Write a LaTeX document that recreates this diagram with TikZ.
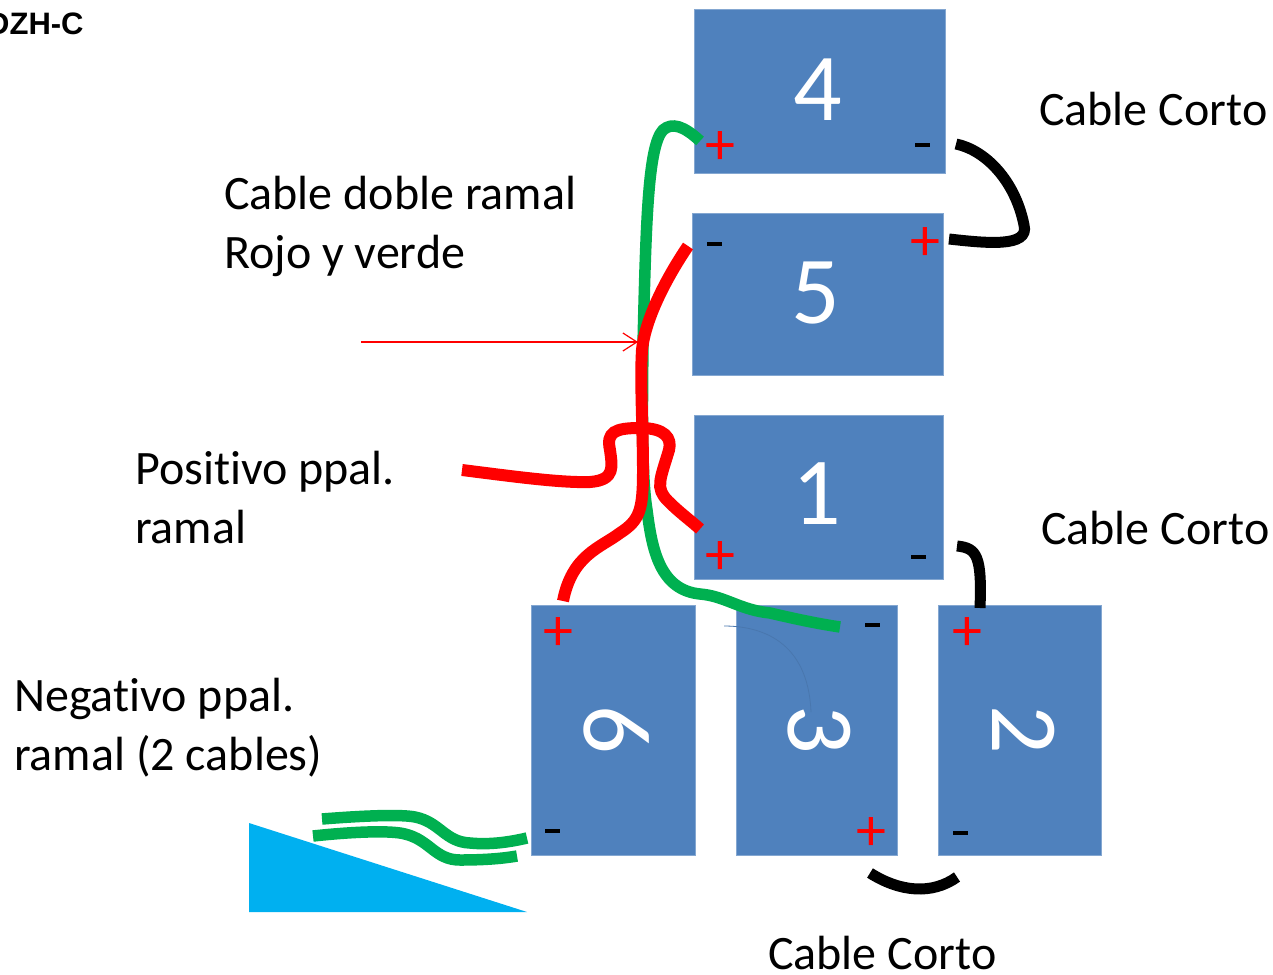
\documentclass[tikz,border=0pt]{standalone}
\usepackage{fontspec}
\setmainfont{Carlito}[Ligatures=CommonOff]
\newfontfamily\labelfont{Liberation Sans}
\usetikzlibrary{arrows.meta}
\definecolor{myBlue}{RGB}{79,129,189}
\definecolor{myCyan}{RGB}{0,176,240}
\definecolor{myGreen}{RGB}{0,176,80}
\definecolor{myRed}{RGB}{255,0,0}

\tikzset{
    battery/.style={fill=myBlue,draw=myBlue!70!white,line width=.6pt,inner sep=0pt,anchor=north west},
    number/.style={text=white,font=\fontsize{96}{96}\selectfont,inner sep=0pt},
    caption/.style={font=\fontsize{48}{59}\selectfont,anchor=west,align=left,inner sep=0pt},
    plus/.style={text=myRed,font=\fontsize{60}{60}\selectfont,inner sep=0pt,xshift=1pt,yshift=-3pt},
    minus/.style={fill=black,minimum width=15pt,minimum height=4.5pt,inner sep=0pt},
    redcable/.style={draw=myRed,line width=12pt},
    greencable/.style={draw=myGreen,line width=11.5pt},
    blackcable/.style={draw=black,line width=11pt},
}

\begin{document}
\begin{tikzpicture}[x=1pt,y=-1pt]
\useasboundingbox (0,0) rectangle (1273,974);

% draw batteries
\node[battery,minimum width=251pt,minimum height=163pt] (bat4) at (694,9.5) {};
\node[battery,minimum width=251pt,minimum height=162pt] (bat5) at (692,213) {};
\node[battery,minimum width=249pt,minimum height=164pt] (bat1) at (694,415) {};
\node[battery,minimum width=164pt,minimum height=250pt] (bat6) at (531,605) {};
\node[battery,minimum width=161pt,minimum height=250pt] (bat3) at (736,605) {};
\node[battery,minimum width=163pt,minimum height=250pt] (bat2) at (938,605) {};

% place numbers
\node[number] (num4) at (818,90) {4};
\node[number] (num5) at (816,293) {5};
\node[number] (num1) at (817,494) {1};
\node[number,rotate=-90] (num6) at (617,730) {6};
\node[number,rotate=-90] (num3) at (819,730) {3};
\node[number,rotate=-90] (num2) at (1024,730) {2};

% place polarity signs
\node[plus] (p4) at (719,145) {+};
\node[plus] (p5) at (924,241) {+};
\node[plus] (p1) at (719,555) {+};
\node[plus] (p6) at (557,631) {+};
\node[plus] (p3) at (870,831) {+};
\node[plus] (p2) at (966,631) {+};
\node[minus] (m4) at (922,145) {};
\node[minus] (m5) at (714,244) {};
\node[minus] (m1) at (918,557) {};
\node[minus] (m6) at (552,831) {};
\node[minus] (m3) at (872,625) {};
\node[minus] (m2) at (960,833) {};

% cable ends
\coordinate (g4) at (700,141);
\coordinate (r5) at (688,246);
\coordinate (rmid) at (642,350);
\coordinate (tip) at (638,342);
\coordinate (tail) at (361,342);
\coordinate (rpos) at (462,470);
\coordinate (r1) at (700,529);
\coordinate (r6) at (563,601);
\coordinate (g3) at (840,627);
\coordinate (gA) at (527,838);
\coordinate (gB) at (517,856);
\coordinate (gC) at (322,819);
\coordinate (gD) at (313,836);
\coordinate (k4) at (956,144);
\coordinate (k5) at (949,239);
\coordinate (k1) at (957,546);
\coordinate (k2) at (980,608);
\coordinate (k3a) at (870,873);
\coordinate (k3b) at (957,877);

% wedge
\fill[myCyan] (249,823) -- (527,912) -- (249,912) -- cycle;

% green cable
\draw[greencable] (g4) .. controls (684,126) and (672,122) .. (663,130)
    .. controls (648,146) and (646,220) .. (643,345)
    .. controls (642,420) and (642,480) .. (647,510)
    .. controls (652,550) and (660,590) .. (700,594)
    .. controls (725,596) and (740,610) .. (770,613)
    .. controls (800,620) and (820,624) .. (g3);

% thin line on battery 3
\draw[myBlue!92!black,line width=.8pt] (724,626) .. controls (760,626) and (808,640) .. (811,712);

% red cables
\draw[redcable] (r5) .. controls (665,280) and (645,320) .. (rmid)
    .. controls (640,380) and (643,430) .. (643,470)
    .. controls (643,510) and (640,520) .. (620,533)
    .. controls (600,548) and (572,555) .. (r6);
\draw[redcable] (rpos) .. controls (510,476) and (560,483) .. (590,482)
    .. controls (616,480) and (612,466) .. (610,450)
    .. controls (606,432) and (615,428) .. (640,428)
    .. controls (665,428) and (672,438) .. (669,450)
    .. controls (660,480) and (655,488) .. (668,501)
    .. controls (680,513) and (690,520) .. (r1);

% arrow to the cables
\draw[myRed,line width=1.2pt,-{Straight Barb[length=14pt,width=18pt]}] (tail) -- (tip);

% black cables
\draw[blackcable] (k4) .. controls (985,150) and (1015,180) .. (1024,225)
    .. controls (1030,248) and (985,243) .. (k5);
\draw[blackcable] (k1) .. controls (977,548) and (982,556) .. (k2);
\draw[blackcable] (k3a) .. controls (900,892) and (932,895) .. (k3b);

% negative cables
\draw[greencable] (gC) .. controls (360,816) and (400,814) .. (415,817)
    .. controls (440,822) and (445,842) .. (470,843)
    .. controls (490,845) and (510,842) .. (gA);
\draw[greencable] (gD) .. controls (350,832) and (390,830) .. (405,834)
    .. controls (430,840) and (435,860) .. (460,860)
    .. controls (480,860) and (500,859) .. (gB);

% place labels
\node[caption] (capA) at (1039,109) {Cable Corto};
\node[caption] (capB) at (1041,528) {Cable Corto};
\node[caption] (capC) at (768,953) {Cable Corto};
\node[caption] (capD) at (224,226.5) {Cable doble ramal\\Rojo y verde};
\node[caption] (capE) at (135,498) {Positivo ppal.\\ramal};
\node[caption] (capF) at (14,728) {Negativo ppal.\\ramal (2 cables)};
\node[font=\labelfont\bfseries\fontsize{31}{31}\selectfont,anchor=west,inner sep=0pt] (title) at (-13,24) {DZH-C};
\end{tikzpicture}
\end{document}
